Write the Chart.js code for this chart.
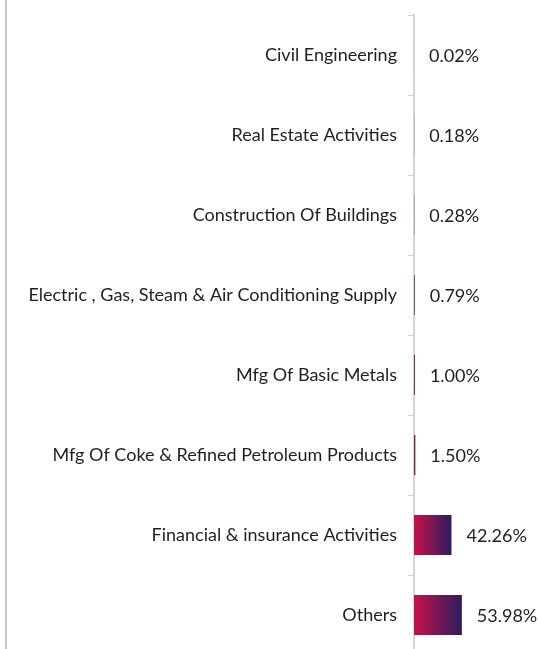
<!DOCTYPE html>
<html lang="en">
<head>
  <meta charset="UTF-8" />
  <title>Sector Allocation</title>
  <script src="https://cdn.jsdelivr.net/npm/chart.js@4.4.0/dist/chart.umd.min.js"></script>
  <style>
    html, body { margin: 0; padding: 0; overflow: hidden; background: #fff; }
    #wrap { position: relative; width: 539px; height: 649px; }
    #edge { position: absolute; left: 5px; top: 0; width: 2px; height: 649px; background: #c9c9c9; }
    #sectorChart { position: absolute; left: 0; top: 0; }
  </style>
</head>
<body>
  <div id="wrap">
    <div id="edge"></div>
    <canvas id="sectorChart" width="539" height="655"></canvas>
  </div>

  <script>
    const sectors = [
      "Civil Engineering",
      "Real Estate Activities",
      "Construction Of Buildings",
      "Electric , Gas, Steam & Air Conditioning Supply",
      "Mfg Of Basic Metals",
      "Mfg Of Coke & Refined Petroleum Products",
      "Financial & insurance Activities",
      "Others"
    ];
    const weights = [0.02, 0.18, 0.28, 0.79, 1.00, 1.50, 42.26, 53.98];

    const FONT = "Lato, 'Open Sans', sans-serif";

    // gradient per bar: crimson at the base, navy at the tip
    function barGradient(context) {
      const chart = context.chart;
      const xs = chart.scales.x;
      if (!xs || !chart.chartArea) return "#c8104a";
      const v = context.raw || 0;
      const x0 = xs.getPixelForValue(0);
      const x1 = xs.getPixelForValue(v);
      const g = chart.ctx.createLinearGradient(x0, 0, x1, 0);
      g.addColorStop(0, "#c8104a");
      g.addColorStop(1, "#2b1d5e");
      return g;
    }

    // percentage text right of each bar
    const valueLabels = {
      id: "valueLabels",
      afterDatasetsDraw(chart) {
        const ctx = chart.ctx;
        const meta = chart.getDatasetMeta(0);
        ctx.save();
        ctx.font = "18px " + FONT;
        ctx.fillStyle = "#1f1f1f";
        ctx.textAlign = "left";
        ctx.textBaseline = "middle";
        meta.data.forEach((bar, i) => {
          ctx.fillText(weights[i].toFixed(2) + "%", bar.x + 15, bar.y + 1);
        });
        ctx.restore();
      }
    };

    new Chart(document.getElementById("sectorChart"), {
      type: "bar",
      data: {
        labels: sectors,
        datasets: [{
          data: weights,
          backgroundColor: barGradient,
          borderWidth: 0,
          categoryPercentage: 1,
          barPercentage: 0.5
        }]
      },
      options: {
        indexAxis: "y",
        responsive: false,
        animation: false,
        layout: { padding: { top: 15, right: 0, bottom: 0, left: 0 } },
        scales: {
          x: { display: false, min: 0, max: 141 },
          y: {
            afterFit(scale) {
              scale.width = 414;
              scale.paddingTop = 0;
              scale.paddingBottom = 0;
            },
            border: { display: true, color: "#d6d6d6", width: 2 },
            grid: {
              offset: true,
              drawOnChartArea: false,
              drawTicks: true,
              tickLength: 6,
              color: "#d6d6d6",
              lineWidth: 1
            },
            ticks: {
              padding: 11,
              color: "#1f1f1f",
              font: { family: FONT, size: 18 }
            }
          }
        },
        plugins: {
          legend: { display: false },
          tooltip: { enabled: false }
        }
      },
      plugins: [valueLabels]
    });
  </script>
</body>
</html>
